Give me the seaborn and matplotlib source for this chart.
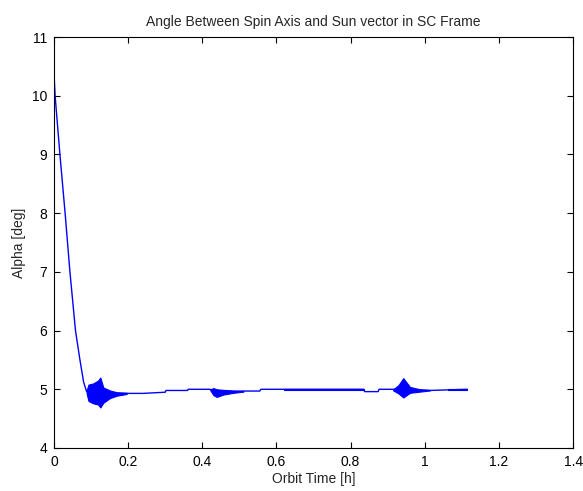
import matplotlib
matplotlib.use("Agg")
import matplotlib.pyplot as plt
import seaborn as sns
import pandas as pd

# centre line of alpha vs orbit time
time_h = [0.000, 0.003, 0.016, 0.030, 0.043, 0.058, 0.070, 0.080, 0.088,
          0.100, 0.120, 0.140, 0.170, 0.200, 0.240, 0.300, 0.302, 0.360,
          0.362, 0.420, 0.440, 0.480, 0.511, 0.555, 0.558, 0.620, 0.835,
          0.838, 0.874, 0.877, 0.915, 0.960, 1.014, 1.063, 1.115]
alpha_deg = [10.39, 10.00, 9.00, 8.00, 7.00, 6.00, 5.50, 5.12, 4.96,
             4.94, 4.94, 4.93, 4.93, 4.93, 4.93, 4.95, 4.98, 4.98,
             5.00, 5.00, 4.96, 4.96, 4.97, 4.97, 5.00, 5.00, 5.00,
             4.96, 4.96, 5.00, 5.00, 4.99, 4.98, 4.99, 5.00]

# oscillation envelopes (upper / lower extent of the filled bursts)
burst1_t = [0.088, 0.093, 0.106, 0.119, 0.125, 0.133, 0.151, 0.169, 0.196]
burst1_hi = [4.98, 5.08, 5.10, 5.15, 5.20, 5.03, 4.98, 4.95, 4.94]
burst1_lo = [4.93, 4.80, 4.76, 4.74, 4.69, 4.77, 4.85, 4.89, 4.92]

burst2_t = [0.421, 0.430, 0.439, 0.457, 0.484, 0.511]
burst2_hi = [5.00, 5.02, 5.00, 4.99, 4.98, 4.97]
burst2_lo = [4.99, 4.90, 4.87, 4.91, 4.94, 4.96]

burst3_t = [0.915, 0.929, 0.942, 0.960, 0.987, 1.014]
burst3_hi = [5.00, 5.07, 5.19, 5.04, 5.00, 4.99]
burst3_lo = [4.98, 4.93, 4.86, 4.94, 4.96, 4.98]

band_t = [0.620, 0.835]
band_hi = [5.012, 5.012]
band_lo = [4.988, 4.988]

band2_t = [1.063, 1.115]
band2_hi = [5.01, 5.01]
band2_lo = [4.99, 4.99]

xticks = [0, 0.2, 0.4, 0.6, 0.8, 1.0, 1.2, 1.4]
xtick_labels = ["0", "0.2", "0.4", "0.6", "0.8", "1", "1.2", "1.4"]
yticks = [4, 5, 6, 7, 8, 9, 10, 11]

df = pd.DataFrame({"t": time_h, "alpha": alpha_deg})

sns.set_style("ticks")
plt.rcParams["font.family"] = ["Liberation Sans", "DejaVu Sans"]

fig = plt.figure(figsize=(5.83, 4.91), dpi=100)
ax = fig.add_axes([0.0926, 0.0876, 0.8904, 0.837])

sns.lineplot(data=df, x="t", y="alpha", sort=False, estimator=None,
             color="blue", linewidth=1.0, ax=ax)
for t, hi, lo in [(burst1_t, burst1_hi, burst1_lo),
                  (burst2_t, burst2_hi, burst2_lo),
                  (burst3_t, burst3_hi, burst3_lo),
                  (band_t, band_hi, band_lo),
                  (band2_t, band2_hi, band2_lo)]:
    ax.fill_between(t, lo, hi, color="blue", linewidth=0.8, edgecolor="blue")

ax.set_xlim(0, 1.4)
ax.set_ylim(4, 11)
ax.set_xticks(xticks)
ax.set_xticklabels(xtick_labels)
ax.set_yticks(yticks)
ax.tick_params(direction="in", length=4, width=0.8, top=True, right=True,
               labelsize=10, colors="black", pad=5)
for s in ax.spines.values():
    s.set_visible(True)
    s.set_color("black")
    s.set_linewidth(0.8)

ax.set_title("Angle Between Spin Axis and Sun vector in SC Frame",
             fontsize=10, pad=8)
ax.set_xlabel("Orbit Time [h]", fontsize=10, labelpad=2)
ax.set_ylabel("Alpha [deg]", fontsize=10, labelpad=4)

fig.savefig("out.png", dpi=100)
